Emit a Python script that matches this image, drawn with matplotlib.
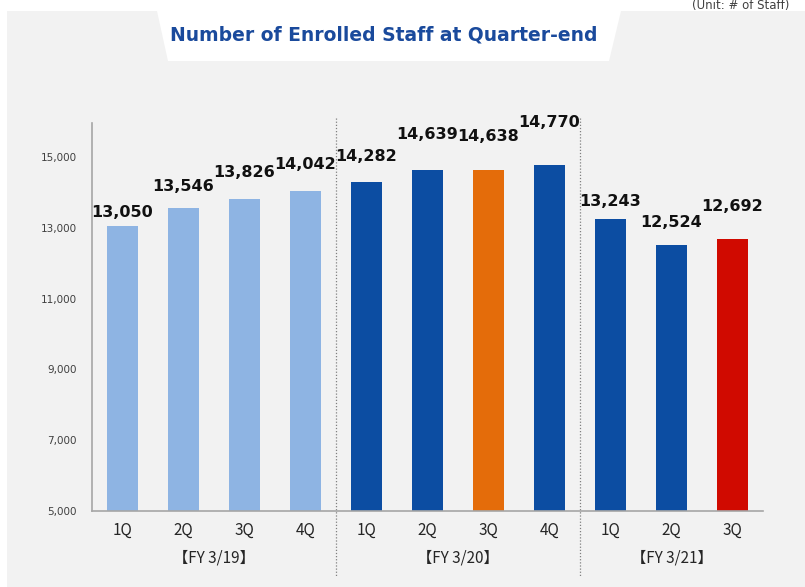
import matplotlib.pyplot as plt
from matplotlib.patches import Polygon, Rectangle
from matplotlib.transforms import blended_transform_factory

plt.rcParams['font.family'] = ['DejaVu Sans', 'Noto Sans CJK JP']

# data
quarters = ['1Q', '2Q', '3Q', '4Q', '1Q', '2Q', '3Q', '4Q', '1Q', '2Q', '3Q']
staff = [13050, 13546, 13826, 14042, 14282, 14639, 14638, 14770, 13243, 12524, 12692]
groups = ['【FY 3/19】', '【FY 3/20】', '【FY 3/21】']
group_sizes = [4, 4, 3]

light = '#8EB4E3'
dark = '#0C4DA2'
colors = [light] * 4 + [dark, dark, '#E46C0A', dark] + [dark, dark, '#D00A00']
# label offset above bar top (pixels)
label_off = [14, 22, 26, 26, 26, 35, 33, 43, 18, 22, 32]

W, H = 805, 587
fig = plt.figure(figsize=(W / 100, H / 100), dpi=100, facecolor='white')

# gray panel and white title box
fig.patches.append(Rectangle((7 / W, 0), 1, 1 - 11 / H, transform=fig.transFigure,
                             facecolor='#F2F2F2', edgecolor='none', zorder=-2))
trap = [(157, 11), (621, 11), (609, 61), (168, 61)]
fig.patches.append(Polygon([(x / W, 1 - y / H) for x, y in trap], closed=True,
                           transform=fig.transFigure, facecolor='white',
                           edgecolor='none', zorder=-1))
fig.text(384 / W, 1 - 35 / H, 'Number of Enrolled Staff at Quarter-end',
         ha='center', va='center', fontsize=13.5, fontweight='bold', color='#1A4A9C')
fig.text(692 / W, 1 - 5 / H, '(Unit: # of Staff)', ha='left', va='center',
         fontsize=8.5, color='#404040')

ax = fig.add_axes([92 / W, 76 / H, 671 / W, 388 / H])
ax.set_facecolor('none')
x = list(range(len(staff)))
ax.bar(x, staff, width=0.51, color=colors, zorder=2)

for xi, v, off in zip(x, staff, label_off):
    ax.annotate(f'{v:,}', (xi, v), xytext=(0, off * 0.72), textcoords='offset points',
                ha='center', va='center', fontsize=11.5, fontweight='bold', color='#111111')

ax.set_xlim(-0.5, len(staff) - 0.5)
ax.set_ylim(5000, 15960)
ax.set_yticks(range(5000, 15001, 2000))
ax.set_yticklabels([f'{t:,}' for t in range(5000, 15001, 2000)])
ax.set_xticks(x)
ax.set_xticklabels(quarters, family=['Noto Sans CJK JP', 'DejaVu Sans'])
ax.tick_params(axis='y', length=0, pad=11, labelsize=7.5, labelcolor='#404040')
ax.tick_params(axis='x', length=0, pad=8, labelsize=11, labelcolor='#262626')

for s in ['top', 'right']:
    ax.spines[s].set_visible(False)
for s in ['left', 'bottom']:
    ax.spines[s].set_color('#A6A6A6')
    ax.spines[s].set_linewidth(1.2)

tr = blended_transform_factory(ax.transData, ax.transAxes)
start = 0
for i, (g, n) in enumerate(zip(groups, group_sizes)):
    center = start + (n - 1) / 2
    ax.text(center, -0.121, g, transform=tr, ha='center', va='center',
            fontsize=11, color='#262626', family=['Noto Sans CJK JP', 'DejaVu Sans'])
    start += n
    if i < len(groups) - 1:
        ax.plot([start - 0.5, start - 0.5], [1.013, -0.17], transform=tr,
                color='#808080', linestyle=(0, (1, 1.5)), linewidth=0.9, clip_on=False)

fig.savefig('out.png', dpi=100, facecolor=fig.get_facecolor())
